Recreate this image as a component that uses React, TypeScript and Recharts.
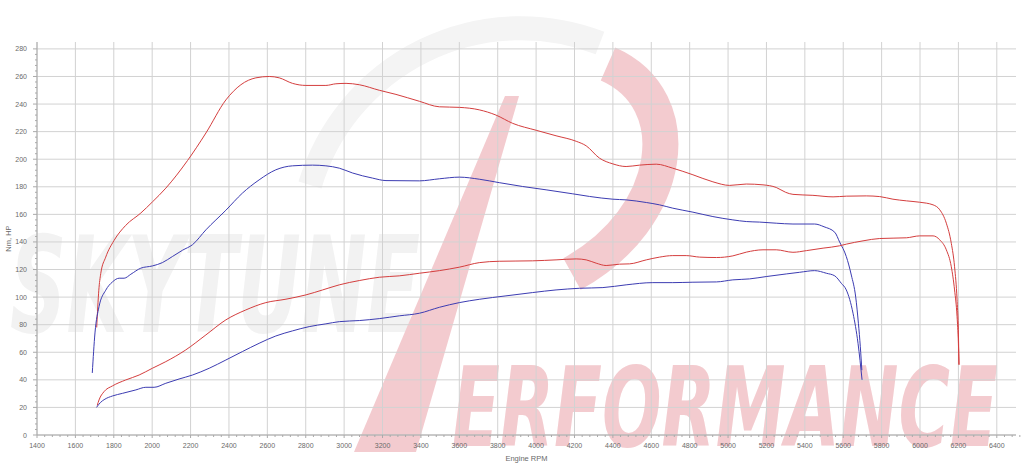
import { LineChart, Line, XAxis, YAxis, CartesianGrid } from 'recharts';

// dyno run: upper curves are torque (Nm), lower curves power (HP)
// [rpm, value]
const torqueTuned: [number, number][] = [
  [1711, 78], [1722, 105], [1732, 117], [1758, 129], [1801, 141], [1862, 152], [1941, 161], [2001, 169],
  [2071, 179], [2184, 199], [2280, 219], [2384, 243], [2462, 254], [2540, 259], [2610, 260], [2662, 259],
  [2731, 255], [2801, 253.5], [2905, 253.5], [2957, 254.7], [3010, 255], [3079, 254], [3183, 250], [3270, 247],
  [3392, 242], [3496, 238], [3600, 237.6], [3704, 235.8], [3791, 232], [3878, 226], [4000, 221], [4104, 217],
  [4209, 213], [4261, 209.7], [4330, 200.8], [4400, 196.6], [4469, 194.7], [4539, 195.7], [4626, 196.4],
  [4712, 193.5], [4817, 188.7], [4921, 183.6], [5008, 181], [5095, 182], [5182, 181.4], [5251, 179.5],
  [5300, 176], [5338, 174.5], [5442, 173.8], [5547, 172.7], [5616, 173.2], [5720, 173.4], [5790, 172.9],
  [5859, 171], [5929, 169.8], [5998, 168.8], [6068, 166.9], [6103, 163.3], [6137, 153.6], [6163, 139],
  [6180, 122], [6193, 98], [6200, 74], [6203, 51],
];

const torqueStock: [number, number][] = [
  [1688, 45], [1702, 74], [1723, 93], [1758, 105], [1793, 111], [1828, 113.7], [1854, 113.7], [1889, 116.6],
  [1941, 121], [2001, 122.6], [2053, 125], [2105, 129.4], [2158, 134], [2210, 138], [2280, 148.8], [2384, 163],
  [2470, 175.4], [2557, 185], [2644, 192.3], [2731, 195.2], [2835, 195.7], [2905, 195.2], [2975, 193.5],
  [3044, 190], [3148, 186.3], [3218, 184.5], [3392, 184.3], [3496, 185.8], [3600, 187], [3704, 185.5],
  [3808, 183], [3930, 180.2], [4052, 177.8], [4191, 174.9], [4278, 173], [4400, 171], [4469, 170.5],
  [4574, 168.6], [4643, 166.9], [4712, 164.5], [4817, 161.6], [4921, 158.4], [5025, 156], [5095, 154.8],
  [5164, 154.4], [5251, 153.6], [5338, 153], [5451, 153], [5500, 151], [5556, 147], [5581, 140],
  [5616, 129.4], [5642, 116], [5665, 100], [5679, 81], [5689, 64], [5697, 47],
];

const powerTuned: [number, number][] = [
  [1714, 21.5], [1723, 25.4], [1749, 31.4], [1793, 35.6], [1862, 39.9], [1932, 43.5], [2001, 48.4],
  [2071, 53.2], [2175, 61.7], [2280, 72.6], [2384, 83.5], [2488, 90.7], [2592, 96], [2697, 98.5],
  [2801, 101.6], [2888, 105.2], [2975, 108.9], [3079, 112], [3183, 114.4], [3287, 115.4], [3392, 117.3],
  [3496, 119.2], [3600, 121.7], [3704, 125], [3808, 126], [3982, 126.3], [4104, 127], [4209, 127.7],
  [4261, 127], [4313, 124.6], [4365, 122.9], [4435, 123.9], [4487, 124.1], [4574, 127], [4643, 129],
  [4712, 130.1], [4782, 130.1], [4852, 129], [4939, 128.7], [5025, 129.9], [5095, 132.6], [5182, 134.3],
  [5251, 134.3], [5338, 132.5], [5408, 133.7], [5495, 135.5], [5581, 137.2], [5616, 138.4], [5703, 140.8],
  [5790, 142.5], [5929, 143], [5998, 144.4], [6068, 144.4], [6103, 141.5], [6137, 134.3], [6163, 122],
  [6180, 105.2], [6193, 85.8], [6200, 66.5], [6203, 51],
];

const powerStock: [number, number][] = [
  [1710, 20], [1730, 23.5], [1754, 26], [1793, 28.3], [1845, 30.2], [1915, 32.7], [1967, 34.6], [2010, 34.6],
  [2071, 37.5], [2140, 40.6], [2210, 43.5], [2297, 48.4], [2384, 54.4], [2470, 60.5], [2557, 66.5],
  [2644, 71.8], [2731, 75.5], [2818, 78.6], [2905, 80.6], [2975, 82.2], [3079, 83], [3183, 84.4],
  [3287, 86.4], [3392, 88.3], [3496, 92.6], [3600, 96], [3704, 98.4], [3843, 100.9], [3982, 103.3],
  [4104, 105.2], [4226, 106.4], [4348, 106.9], [4469, 108.9], [4608, 110.5], [4712, 110.5], [4817, 110.8],
  [4939, 111], [5025, 112.5], [5112, 113.2], [5199, 114.9], [5303, 116.8], [5373, 118], [5451, 119.2],
  [5512, 117.3], [5556, 115.4], [5590, 110], [5616, 105.2], [5651, 88.3], [5677, 66.5], [5698, 40],
];

const xMajorTicks = [1400, 1600, 1800, 2000, 2200, 2400, 2600, 2800, 3000, 3200, 3400, 3600, 3800, 4000,
  4200, 4400, 4600, 4800, 5000, 5200, 5400, 5600, 5800, 6000, 6200, 6400];
const yMajorTicks = [0, 20, 40, 60, 80, 100, 120, 140, 160, 180, 200, 220, 240, 260, 280];

// minor tick marks: 5 per major step
const xMinorTicks = xMajorTicks.flatMap(t => [0, 40, 80, 120, 160].map(d => t + d));
const yMinorTicks = yMajorTicks.flatMap(t => [0, 4, 8, 12, 16].map(d => t + d)).filter(t => t <= 280);

const RED = '#d43e3e';
const BLUE = '#3c3cb2';
const TEXT = '#6a6a6a';
const AXIS = '#aaa';
const FONT = '"Liberation Sans", Arial, sans-serif';

const toRows = (s: [number, number][]) => s.map(([rpm, v]) => ({ rpm, v }));

const XTick = (props: any) => {
  const { x, y, payload } = props;
  const major = xMajorTicks.includes(payload.value);
  return (
    <g>
      <line x1={x} y1={y} x2={x} y2={y + (major ? 3 : 2)} stroke={AXIS} />
      {major && (
        <text x={x} y={y + 13} textAnchor="middle" fontSize={7} fill={TEXT} fontFamily={FONT}>
          {payload.value}
        </text>
      )}
    </g>
  );
};

const YTick = (props: any) => {
  const { x, y, payload } = props;
  const major = yMajorTicks.includes(payload.value);
  return (
    <g>
      <line x1={x - (major ? 4 : 2)} y1={y} x2={x} y2={y} stroke={AXIS} />
      {major && (
        <text x={x - 10} y={y + 2.5} textAnchor="end" fontSize={7} fill={TEXT} fontFamily={FONT}>
          {payload.value}
        </text>
      )}
    </g>
  );
};

function Watermark() {
  return (
    <svg width={1024} height={475} style={{ position: 'absolute', left: 0, top: 0 }}>
      <path d="M 310 185 A 220 220 0 0 1 600 43" fill="none" stroke="#f4f4f4" strokeWidth={24} />
      <text x={10} y={332} fontSize={134} fontStyle="italic" fontWeight={900} fill="#f2f2f2"
        fontFamily='"DejaVu Sans", sans-serif' textLength={410} lengthAdjust="spacingAndGlyphs">SKYTUNE</text>
      <polygon points="505,96 519,96 416,452 354,452" fill="#f3cbcf" />
      <path d="M 608 64 C 690 100 674 218 572 274" fill="none" stroke="#f3cbcf" strokeWidth={36} />
      <text x={452} y={446} fontSize={110} fontStyle="italic" fontWeight={900} fill="#f3cbcf"
        fontFamily='"DejaVu Sans", sans-serif' textLength={546} lengthAdjust="spacingAndGlyphs">ERFORMANCE</text>
    </svg>
  );
}

export default function App() {
  return (
    <div style={{ position: 'absolute', left: 0, top: 0, width: 1024, height: 475, background: '#fff' }}>
      <Watermark />
      <div style={{ position: 'absolute', left: 0, top: 0 }}>
        <LineChart width={1024} height={475} margin={{ top: 42, right: 8, left: 0, bottom: 0 }}>
          <CartesianGrid stroke="#d2d2d2" verticalValues={xMajorTicks} horizontalValues={yMajorTicks} />
          <XAxis
            dataKey="rpm"
            type="number"
            domain={[1400, 6500]}
            allowDataOverflow
            ticks={xMinorTicks}
            interval={0}
            height={40}
            tickSize={0}
            tickMargin={0}
            tickLine={false}
            tick={XTick}
            stroke={AXIS}
            label={{ value: 'Engine RPM', position: 'insideBottom', offset: 14, fontSize: 7.5, fill: TEXT, fontFamily: FONT }}
          />
          <YAxis
            type="number"
            domain={[0, 285]}
            allowDataOverflow
            ticks={yMinorTicks}
            interval={0}
            width={37}
            tickSize={0}
            tickMargin={0}
            tickLine={false}
            tick={YTick}
            stroke={AXIS}
            label={{ value: 'Nm, HP', angle: -90, position: 'insideLeft', offset: 8, fontSize: 7.5, fill: TEXT, fontFamily: FONT, style: { textAnchor: 'middle' } }}
          />
          <Line data={toRows(torqueTuned)} dataKey="v" type="monotone" stroke={RED} strokeWidth={1} dot={false} isAnimationActive={false} />
          <Line data={toRows(torqueStock)} dataKey="v" type="monotone" stroke={BLUE} strokeWidth={1} dot={false} isAnimationActive={false} />
          <Line data={toRows(powerTuned)} dataKey="v" type="monotone" stroke={RED} strokeWidth={1} dot={false} isAnimationActive={false} />
          <Line data={toRows(powerStock)} dataKey="v" type="monotone" stroke={BLUE} strokeWidth={1} dot={false} isAnimationActive={false} />
        </LineChart>
      </div>
    </div>
  );
}
